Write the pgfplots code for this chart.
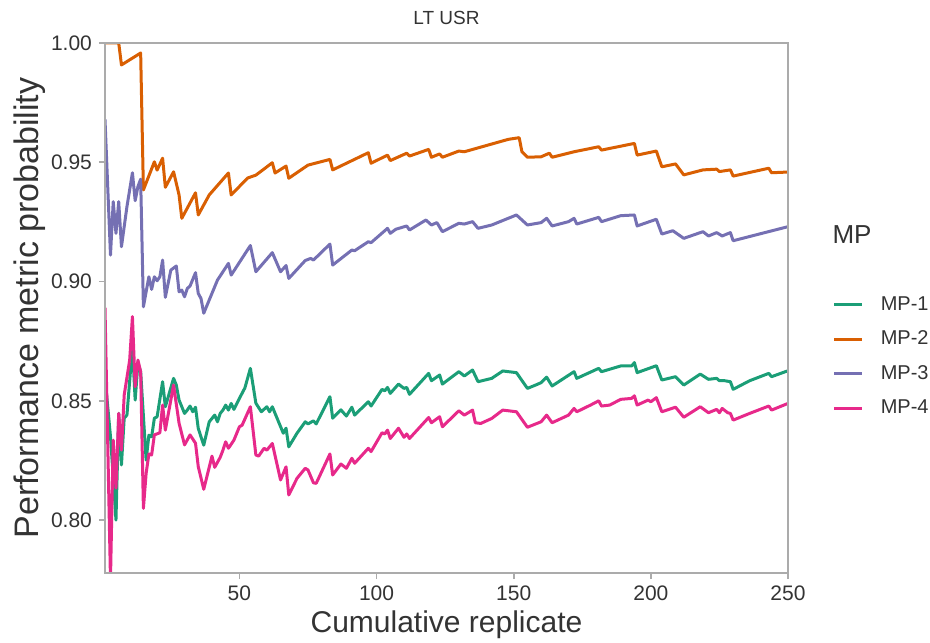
\documentclass[border=0pt]{standalone}
\usepackage{fontspec}
\setmainfont{Liberation Sans}
\usepackage{pgfplots}
\usepackage{pgfplotstable}
\pgfplotsset{compat=1.18}

\definecolor{mpone}{HTML}{1B9E77}
\definecolor{mptwo}{HTML}{D95F02}
\definecolor{mpthree}{HTML}{7570B3}
\definecolor{mpfour}{HTML}{E7298A}
\definecolor{framegray}{HTML}{ABABAB}
\definecolor{textgray}{HTML}{333333}

% cumulative replicate vs. probability, one table per MP
\pgfplotstableread{
x y
1 0.860
3 0.835
4 0.818
5 0.800
6 0.8447
7 0.8231
8 0.8427
9 0.8440
11 0.8727
12 0.8503
13 0.8657
14 0.8622
16 0.8251
17 0.8356
18 0.8349
19 0.8427
20 0.8433
22 0.8580
23 0.8475
26 0.8594
27 0.8566
28 0.8503
30 0.8447
31 0.8461
32 0.8478
33 0.8454
34 0.8473
35 0.8384
37 0.8314
39 0.8412
41 0.8440
42 0.8412
43 0.8447
44 0.8461
45 0.8482
46 0.8461
47 0.8489
48 0.8464
50 0.8510
52 0.8554
54 0.8636
56 0.8490
58 0.8454
60 0.8475
61 0.8454
62 0.8475
66 0.8364
67 0.8385
68 0.8307
71 0.8364
74 0.8412
75 0.8403
77 0.8416
78 0.8403
83 0.8517
84 0.8427
87 0.8462
89 0.8436
91 0.8473
92 0.8440
97 0.8496
98 0.8478
102 0.8548
103 0.8542
104 0.8556
105 0.8531
108 0.8570
110 0.8552
111 0.8556
112 0.8527
119 0.8615
120 0.8584
123 0.8608
124 0.8570
130 0.8622
132 0.8604
135 0.8629
137 0.8580
142 0.8594
146 0.8625
151 0.8618
155 0.8552
158 0.8566
160 0.8576
162 0.8599
164 0.8562
172 0.8622
173 0.8594
181 0.8636
182 0.8622
189 0.8646
193 0.8646
194 0.8660
195 0.8618
202 0.8647
204 0.8587
209 0.8601
212 0.8566
218 0.8612
221 0.8590
224 0.8594
225 0.8584
227 0.8584
229 0.8580
230 0.8548
236 0.8584
243 0.8615
244 0.8601
250 0.8626
}\mpone

\pgfplotstableread{
x y
1 1.000
6 1.000
7 0.9908
14 0.9958
15 0.9384
19 0.9502
20 0.9467
22 0.9517
23 0.9395
26 0.9460
28 0.9363
29 0.9265
34 0.9372
35 0.9279
39 0.9363
46 0.9455
47 0.9363
53 0.9434
56 0.9446
62 0.9498
63 0.9455
67 0.9484
68 0.9433
75 0.9488
83 0.9512
84 0.9468
97 0.9540
98 0.9496
104 0.9530
105 0.9507
111 0.9538
112 0.9526
119 0.9554
120 0.9521
123 0.9535
124 0.9521
130 0.9547
132 0.9544
148 0.9596
152 0.9603
153 0.9544
155 0.9521
160 0.9523
163 0.9538
164 0.9521
172 0.9544
181 0.9565
182 0.9551
194 0.9579
195 0.9530
202 0.9547
204 0.9481
209 0.9493
212 0.9447
219 0.9468
224 0.9471
225 0.9461
229 0.9468
230 0.9442
243 0.9475
244 0.9456
250 0.9459
}\mptwo

\pgfplotstableread{
x y
1 0.968
3 0.9111
4 0.9335
5 0.9202
6 0.9335
7 0.9146
9 0.9314
11 0.9456
12 0.9339
13 0.9398
14 0.9429
15 0.8894
17 0.9020
18 0.8967
19 0.9020
20 0.9003
21 0.9020
22 0.9090
23 0.8934
25 0.9048
27 0.9065
28 0.8957
29 0.8964
30 0.8936
31 0.8971
32 0.8981
34 0.9037
35 0.8950
36 0.8929
37 0.8867
42 0.9006
46 0.9076
47 0.9027
54 0.9151
56 0.9041
62 0.9121
65 0.9041
67 0.9067
68 0.9013
74 0.9088
76 0.9097
77 0.9090
83 0.9157
84 0.9069
91 0.9132
92 0.9129
97 0.9167
98 0.9163
104 0.9223
105 0.9202
107 0.9219
111 0.9233
112 0.9216
118 0.9258
120 0.9237
122 0.9247
124 0.9209
130 0.9244
132 0.9241
135 0.9251
137 0.9223
142 0.9237
151 0.9279
155 0.9237
160 0.9247
162 0.9265
164 0.9233
170 0.9251
172 0.9265
173 0.9241
181 0.9269
182 0.9251
189 0.9276
194 0.9279
195 0.9233
202 0.9261
204 0.9199
208 0.9213
212 0.9181
219 0.9209
221 0.9191
224 0.9205
226 0.9191
229 0.9205
230 0.9171
250 0.9230
}\mpthree

\pgfplotstableread{
x y
1 0.889
3 0.775
4 0.8335
5 0.8134
6 0.8447
7 0.8293
8 0.8524
10 0.8671
11 0.8853
12 0.8559
13 0.8671
14 0.8622
15 0.8049
16 0.8196
17 0.8277
18 0.8273
19 0.8357
21 0.8366
22 0.8482
23 0.8377
26 0.8566
28 0.8406
30 0.8315
32 0.8357
34 0.8322
35 0.8224
37 0.8129
40 0.8268
41 0.8221
43 0.8263
44 0.8293
45 0.8328
46 0.8301
48 0.8335
50 0.8391
51 0.8398
54 0.8475
56 0.8273
57 0.8268
59 0.8301
60 0.8293
62 0.8321
65 0.8168
67 0.8223
68 0.8105
71 0.8175
74 0.8217
75 0.8210
77 0.8156
78 0.8154
83 0.8277
84 0.8189
87 0.8235
89 0.8217
91 0.8259
92 0.8238
97 0.8301
98 0.8287
102 0.8366
103 0.8361
104 0.8377
105 0.8342
108 0.8385
110 0.8347
111 0.8361
112 0.8342
119 0.8430
120 0.8408
123 0.8433
124 0.8391
130 0.8458
132 0.8440
135 0.8461
136 0.8408
138 0.8405
142 0.8426
146 0.8461
151 0.8454
155 0.8389
160 0.8412
162 0.8440
164 0.8408
170 0.8440
172 0.8468
173 0.8454
178 0.8482
181 0.8500
182 0.8478
185 0.8482
189 0.8506
193 0.8510
194 0.8521
195 0.8482
199 0.8503
200 0.8496
202 0.8513
204 0.8454
209 0.8473
212 0.8431
218 0.8475
221 0.8450
224 0.8464
225 0.8450
226 0.8468
228 0.8450
229 0.8447
230 0.8419
236 0.8447
243 0.8478
244 0.8461
250 0.8489
}\mpfour

\begin{document}
\begin{tikzpicture}
\path[use as bounding box] (-52.5pt,-34.5pt) rectangle (412.5pt,286.5pt);
\begin{axis}[
  at={(0,0)}, anchor=south west,
  width=341.5pt, height=265pt, scale only axis,
  xmin=1, xmax=250, ymin=0.7778, ymax=1.0,
  clip mode=individual,
  axis on top,
  axis line style={draw=framegray, line width=1.25pt},
  xtick pos=bottom, ytick pos=left,
  tick align=outside,
  tick style={draw=framegray, line width=0.9pt},
  major tick length=3pt,
  xtick={50,100,150,200,250},
  ytick={0.80,0.85,0.90,0.95,1.00},
  yticklabel style={/pgf/number format/.cd, fixed, fixed zerofill, precision=2},
  /pgf/number format/assume math mode=true,
  ticklabel style={font=\fontsize{10.5}{12}\selectfont, text=textgray},
  xlabel={Cumulative replicate},
  ylabel={Performance metric probability},
  xlabel style={at={(axis description cs:0.5,-0.098)}, anchor=center,
    font=\fontsize{15}{18}\selectfont, text=textgray},
  ylabel style={at={(axis description cs:-0.11,0.5)}, anchor=center,
    font=\fontsize{17}{20}\selectfont, text=textgray},
  title={LT USR},
  every axis title shift=0pt,
  title style={at={(axis description cs:0.5,1.047)}, anchor=center,
    font=\fontsize{9.5}{11}\selectfont, text=textgray},
  legend cell align=left,
  legend style={at={(rel axis cs:1.065,0.53)}, anchor=north west,
    draw=none, fill=none, font=\fontsize{10}{12}\selectfont,
    text=textgray, row sep=4.75pt, inner sep=0pt,
    /tikz/every odd column/.append style={column sep=6.5pt}},
  legend image code/.code={\draw[#1, line width=1.5pt] (0pt,0pt) -- (14pt,0pt);},
  every axis plot/.append style={line width=1.5pt, line join=round, mark=none},
]
\addplot[mpone] table {\mpone};
\addlegendentry{MP-1}
\addplot[mptwo] table {\mptwo};
\addlegendentry{MP-2}
\addplot[mpthree] table {\mpthree};
\addlegendentry{MP-3}
\addplot[mpfour] table {\mpfour};
\addlegendentry{MP-4}
\node[anchor=center, font=\fontsize{13}{15}\selectfont, text=textgray]
  at (rel axis cs:1.0937,0.6377) {MP};
\end{axis}
\end{tikzpicture}
\end{document}
